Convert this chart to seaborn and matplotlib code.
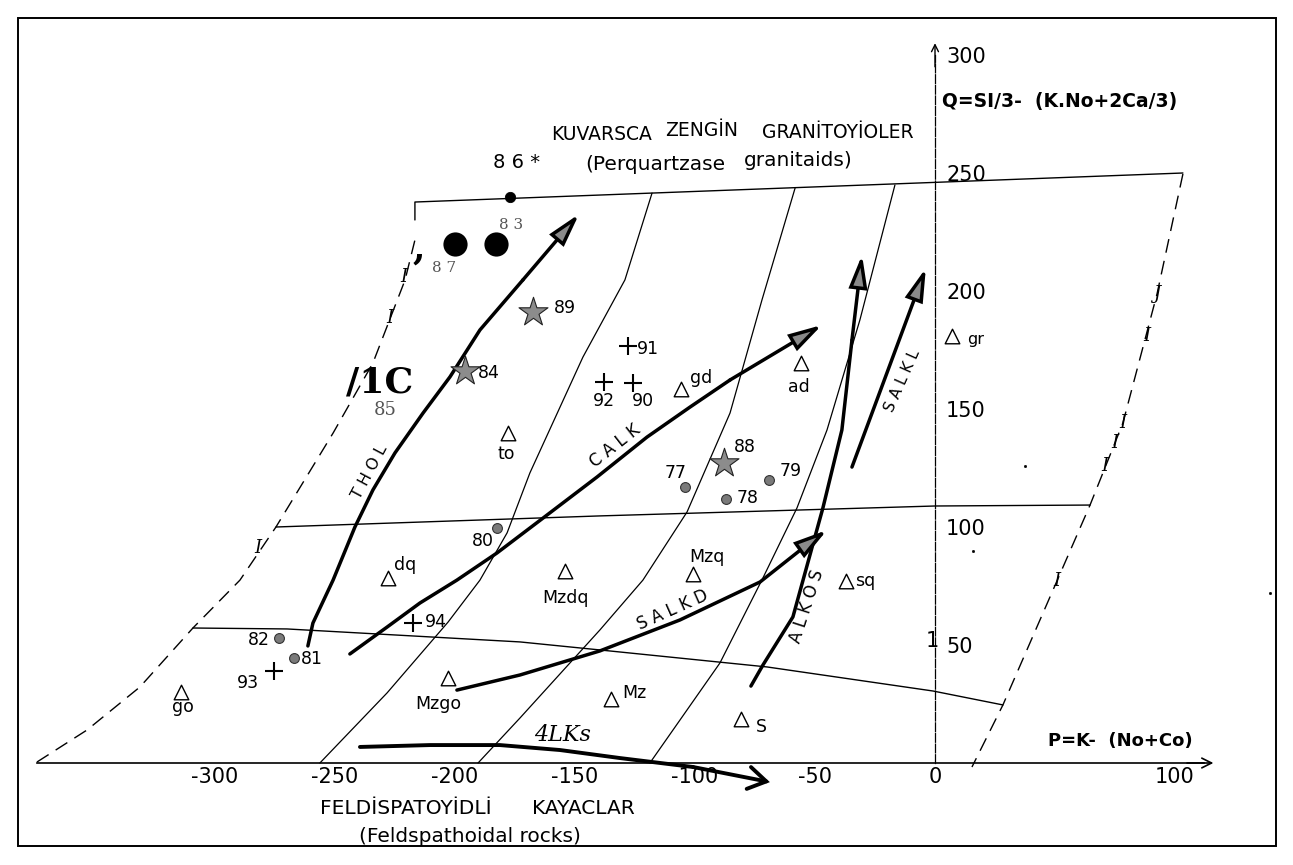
import numpy as np
import pandas as pd
import matplotlib
matplotlib.use("Agg")
import matplotlib.pyplot as plt
import seaborn as sns
from matplotlib.patches import Rectangle

# ---------------- data (P = K-(Na+Ca) , Q = Si/3-(K+Na+2Ca/3)) ----------------
tri_names = ["to", "gd", "ad", "gr", "dq", "Mzdq", "Mzq", "sq", "Mzgo", "Mz", "S", "go"]
tri_P = [-178, -106, -56, 7, -228, -154, -101, -37, -203, -135, -81, -314]
tri_Q = [140, 158.5, 169.5, 181, 78.5, 81.5, 80, 77, 36, 27, 18.5, 30]

star_names = ["89", "84", "88"]
star_P = [-167.5, -196, -88]
star_Q = [191, 166, 127]

cross_names = ["91", "92", "90", "94", "93"]
cross_P = [-128, -138, -126, -217.5, -275.5]
cross_Q = [176.5, 161.5, 161, 59.5, 39]

grey_names = ["77", "78", "79", "80", "82", "81"]
grey_P = [-104, -87, -69, -182.5, -273.5, -267]
grey_Q = [117, 112, 120, 99.5, 53, 44.5]

big_names = ["8 7", "8 3"]
big_P = [-200, -183]
big_Q = [220, 220]

small_names = ["8 6 *"]
small_P = [-177]
small_Q = [240]

speck_P = [37.5, 139.6, 15.8]
speck_Q = [125.8, 72.0, 89.8]

# grid (parallelogram) lines
top_P = [-216.7, -216.7, 103.3]
top_Q = [230.1, 237.7, 250.0]
mid_P = [-274.6, -139.6, 0, 64.6]
mid_Q = [100.0, 104.7, 108.9, 109.3]
bot_P = [-309.2, -270, -172.9, -139.6, -70, -0.8, 28.3]
bot_Q = [57.2, 56.8, 51.3, 47.9, 40.7, 30.5, 24.6]
left_P = [-374.2, -353.3, -331.3, -309.2, -289.6, -274.6, -250.8, -234.2, -220.8, -216.7]
left_Q = [0.4, 14.0, 32.2, 57.2, 77.5, 100.0, 139.8, 169.5, 204.7, 221.6]
right_P = [103.3, 92.5, 78.3, 64.6, 50.8, 28.3, 15.4]
right_Q = [249.6, 198.7, 144.1, 109.3, 77.1, 24.6, -1.7]
c1_P = [-256.3, -228.3, -202.9, -189.6, -178.3, -168.8, -146.7, -129.2, -117.9]
c1_Q = [0, 29.7, 59.7, 77.5, 97.5, 122.9, 172.0, 204.7, 241.5]
c2_P = [-190.4, -172.9, -139.6, -121.7, -103.3, -85.4, -72.1, -58.3]
c2_Q = [0, 19.1, 56.4, 77.5, 106.4, 148.3, 196.2, 243.6]
c3_P = [-118.8, -89.6, -71.7, -57.5, -45.0, -31.3, -16.7]
c3_Q = [0, 42.4, 78.4, 108.1, 141.1, 187.7, 244.9]

# trend arrows
thol_P = [-261.3, -259.2, -250.8, -241.7, -234.2, -225.0, -213.3, -202.1, -189.6, -171.7, -148.3]
thol_Q = [49.6, 59.3, 77.5, 100.0, 115.7, 131.4, 148.3, 163.6, 183.5, 204.7, 232.6]
calk_P = [-243.8, -228.3, -214.6, -199.2, -182.5, -163.3, -140.8, -120.0, -102.1, -85.4, -47.1]
calk_Q = [46.2, 57.6, 67.8, 77.5, 89.0, 103.8, 121.2, 138.1, 150.8, 162.3, 185.6]
salkd_P = [-199.2, -172.9, -139.6, -106.3, -72.9, -50.8, -45.0]
salkd_Q = [30.9, 37.3, 47.5, 60.6, 76.7, 94.5, 98.7]
alkos_P = [-76.7, -71.7, -59.2, -46.7, -38.8, -34.6, -30.4]
alkos_Q = [32.6, 41.5, 61.9, 108.1, 141.1, 179.2, 215.3]
salkl_P = [-34.6, -3.8]
salkl_Q = [125.4, 209.7]
alks_P = [-239.6, -210.4, -181.3, -156.3, -131.3, -100.8, -68.8]
alks_Q = [6.8, 7.6, 7.6, 5.5, 2.1, -1.7, -8.1]

x_ticks = [-300, -250, -200, -150, -100, -50, 0, 50, 100]
x_ticklabels = ["-300", "-250", "-200", "-150", "-100", "-50", "0", "", "100"]
y_ticks = [50, 100, 150, 200, 250, 300]
y_ticklabels = ["50", "100", "150", "200", "250", "300"]

# ---------------- figure ----------------
W, H = 1293, 865
sns.set_style("white")
plt.rcParams["font.family"] = ["DejaVu Sans"]
plt.rcParams["text.color"] = "black"
plt.rcParams["xtick.color"] = "black"
plt.rcParams["ytick.color"] = "black"
plt.rcParams["axes.labelcolor"] = "black"

fig = plt.figure(figsize=(W / 100, H / 100), dpi=100)
ax = fig.add_axes([0, 0, 1, 1])
ax.set_facecolor("white")


def T(x, y, s, **kw):
    ha = kw.pop("ha", "center")
    va = kw.pop("va", "center")
    fig.text(x / W, 1 - y / H, s, ha=ha, va=va, color=kw.pop("color", "black"), **kw)


def line(P, Q, lw=0.9, ls="-", z=2):
    sns.lineplot(x=P, y=Q, sort=False, estimator=None, color="black",
                 linewidth=lw, linestyle=ls, ax=ax, zorder=z, legend=False)


def arrow(P, Q, style, ms=16, lw=2.5, fc="#8a8a8a"):
    line(P[:-1], Q[:-1], lw=lw, z=3)
    ax.annotate("", xy=(P[-1], Q[-1]), xytext=(P[-2], Q[-2]),
                arrowprops=dict(arrowstyle=style, mutation_scale=ms, lw=lw,
                                fc=fc, ec="black", shrinkA=0, shrinkB=0,
                                joinstyle="miter"), zorder=4)


# grid lines
line(top_P, top_Q, lw=1.0)
line(mid_P, mid_Q, lw=1.0)
line(bot_P, bot_Q, lw=1.0)
line(left_P, left_Q, lw=1.0, ls=(0, (10, 6)))
line(right_P, right_Q, lw=1.0, ls=(0, (10, 6)))
line(c1_P, c1_Q, lw=0.9)
line(c2_P, c2_Q, lw=0.9)
line(c3_P, c3_Q, lw=0.9)

# arrows
filled = "-|>,head_length=1.2,head_width=0.33"
arrow(thol_P, thol_Q, filled)
arrow(calk_P, calk_Q, filled)
arrow(salkd_P, salkd_Q, filled)
arrow(alkos_P, alkos_Q, filled)
arrow(salkl_P, salkl_Q, filled)
arrow(alks_P, alks_Q, "->,head_length=0.8,head_width=0.5", lw=2.8)

# markers
sns.scatterplot(x=tri_P, y=tri_Q, marker="^", s=110, color="white",
                edgecolor="black", linewidth=1.0, ax=ax, zorder=5, legend=False)
sns.scatterplot(x=star_P, y=star_Q, marker="*", s=480, color="#8c8c8c",
                edgecolor="#222222", linewidth=0.8, ax=ax, zorder=5, legend=False)
sns.scatterplot(x=cross_P, y=cross_Q, marker="+", s=170, color="black",
                linewidth=1.5, ax=ax, zorder=5, legend=False)
sns.scatterplot(x=grey_P, y=grey_Q, marker="o", s=50, color="#7a7a7a",
                edgecolor="#333333", linewidth=0.8, ax=ax, zorder=5, legend=False)
sns.scatterplot(x=big_P, y=big_Q, marker="o", s=260, color="black",
                edgecolor="black", ax=ax, zorder=5, legend=False)
sns.scatterplot(x=small_P, y=small_Q, marker="o", s=55, color="black",
                edgecolor="black", ax=ax, zorder=5, legend=False)
sns.scatterplot(x=speck_P, y=speck_Q, marker="o", s=4, color="black",
                edgecolor="black", ax=ax, zorder=5, legend=False)

# point labels (offsets in pixels: right, down)
tri_off = [(-2, 21), (21, -11), (-2, 24), (24, 4), (17, -13), (0, 27),
           (14, -17), (19, 0), (-9, 26), (23, -6), (21, 8), (2, 15)]
star_off = [(32, -4), (24, 2), (21, -16)]
cross_off = [(20, 3), (0, 19), (10, 18), (23, -1), (-26, 12)]
grey_off = [(-10, -14), (21, -1), (21, -9), (-14, 13), (-20, 2), (18, 1)]


def labels(names, P, Q, offs, **kw):
    kw.setdefault("color", "black")
    for n, p, q, (dx, dy) in zip(names, P, Q, offs):
        ax.annotate(n, xy=(p, q), xytext=(dx, -dy), textcoords="offset pixels",
                    ha="center", va="center", zorder=6, **kw)


labels(tri_names[:3], tri_P[:3], tri_Q[:3], tri_off[:3], fontsize=12.5)
labels(tri_names[3:4], tri_P[3:4], tri_Q[3:4], tri_off[3:4], fontsize=11.5)
labels(tri_names[4:], tri_P[4:], tri_Q[4:], tri_off[4:], fontsize=12.5)
labels(star_names, star_P, star_Q, star_off, fontsize=12.5)
labels(cross_names, cross_P, cross_Q, cross_off, fontsize=12.5)
labels(grey_names, grey_P, grey_Q, grey_off, fontsize=12.5)
labels(big_names, big_P, big_Q, [(-11, 24), (15, -19)], fontsize=11,
       family="DejaVu Serif", color="#555555")
labels(small_names, small_P, small_Q, [(6, -34)], fontsize=14)

# axes: spines through the origin
ax.set_xlim((0 - 935) / 2.4, (W - 935) / 2.4)
ax.set_ylim((763 - H) / 2.36, 763 / 2.36)
for s in ["top", "right"]:
    ax.spines[s].set_visible(False)
ax.spines["bottom"].set_position(("data", 0))
ax.spines["left"].set_position(("data", 0))
ax.spines["bottom"].set_bounds(-374.2, 112)
ax.spines["left"].set_bounds(0, 300)
ax.spines["bottom"].set_linewidth(1.2)
ax.spines["left"].set_linewidth(0.9)
ax.spines["left"].set_linestyle((0, (7, 1.5)))
ax.spines["bottom"].set_color("black")
ax.spines["left"].set_color("black")
ax.set_xticks(x_ticks)
ax.set_xticklabels(x_ticklabels)
ax.set_yticks(y_ticks)
ax.set_yticklabels(y_ticklabels)
ax.tick_params(axis="x", direction="in", length=6, width=1, labelsize=15, pad=3,
               color="black", labelcolor="black")
ax.tick_params(axis="y", direction="inout", length=8, width=1, labelsize=15,
               pad=-12, color="black", labelcolor="black")
for lab in ax.get_yticklabels():
    lab.set_ha("left")
ax.yaxis.get_major_ticks()[0].tick1line.set_visible(False)
ax.set_xlabel("")
ax.set_ylabel("")
ax.grid(False)

# axis arrowheads
ax.annotate("", xy=(116, 0), xytext=(105, 0),
            arrowprops=dict(arrowstyle="->,head_length=0.7,head_width=0.35",
                            lw=1.2, color="black", shrinkA=0, shrinkB=0))
ax.annotate("", xy=(0, 305), xytext=(0, 295),
            arrowprops=dict(arrowstyle="->,head_length=0.5,head_width=0.25",
                            lw=1.0, color="black", shrinkA=0, shrinkB=0))

# ---------------- texts ----------------
T(932, 641, "1", fontsize=15)
T(942, 102, "Q=SI/3-  (K.No+2Ca/3)", fontsize=13.5, fontweight="bold", ha="left")
T(1120, 741, "P=K-  (No+Co)", fontsize=13, fontweight="bold")
T(602, 135, "KUVARSCA", fontsize=13.5)
T(702, 130, "ZENGİN", fontsize=13.5)
T(838, 133, "GRANİTOYİOLER", fontsize=13.5)
T(655, 164, "(Perquartzase", fontsize=14.5)
T(798, 161, "granitaids)", fontsize=14.5)
T(406, 808, "FELDİSPATOYİDLİ", fontsize=14.5)
T(583, 808, "KAYACLAR", fontsize=14.5)
T(470, 837, "(Feldspathoidal rocks)", fontsize=14.5)

T(370, 472, "T H O L", fontsize=11.5, rotation=62)
T(615, 446, "C A L K", fontsize=12, rotation=38)
T(673, 610, "S A L K D", fontsize=12, rotation=24)
T(807, 606, "A L K O S", fontsize=12, rotation=72)
T(902, 381, "S A L K L", fontsize=11, rotation=66)
T(563, 735, "4LKs", fontsize=16, family="DejaVu Serif", style="italic")

T(380, 382, "/1C", fontsize=26, family="DejaVu Serif", fontweight="bold")
T(385, 410, "85", fontsize=13, family="DejaVu Serif", color="#555555")
T(419, 250, ",", fontsize=26, family="DejaVu Serif", fontweight="bold")

for (x, y, s) in [(258, 548, "I"), (404, 277, "I"), (390, 318, "I"),
                  (1157, 294, "J"), (1147, 336, "I"), (1123, 423, "I"),
                  (1115, 443, "I"), (1105, 466, "I"), (1057, 581, "I")]:
    T(x, y, s, fontsize=13, family="DejaVu Serif", style="italic")

# frame
fig.patches.append(Rectangle((18 / W, 1 - 846 / H), (1276 - 18) / W, (846 - 18) / H,
                             transform=fig.transFigure, fill=False,
                             edgecolor="black", linewidth=1.4))

fig.savefig("out.png", dpi=100)
